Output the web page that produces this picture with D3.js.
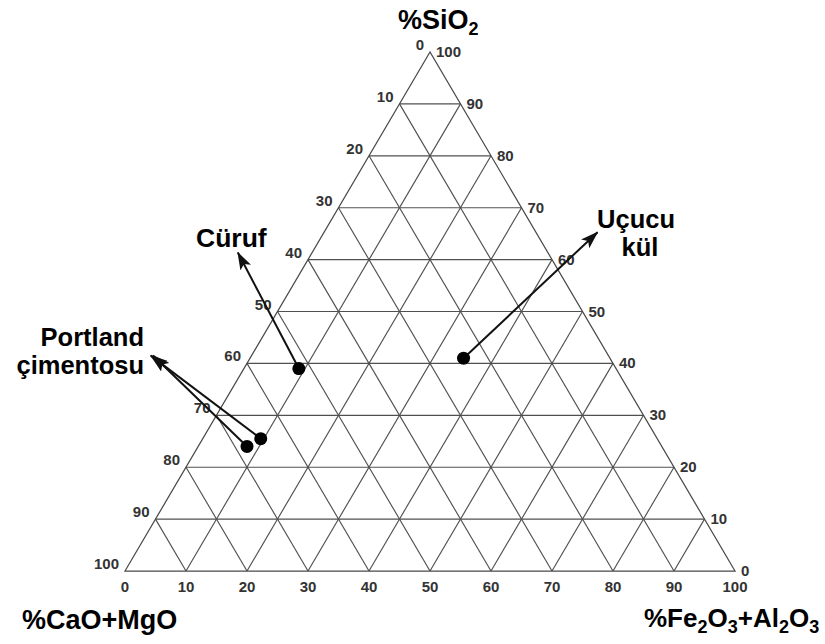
<!DOCTYPE html>
<html lang="tr">
<head>
<meta charset="UTF-8">
<title>Üçgen diyagram</title>
<script src="https://d3js.org/d3.v7.min.js"></script>
<style>
  body { margin: 0; background: #fff; }
  text { font-family: "Liberation Sans", Arial, Helvetica, sans-serif; }
</style>
</head>
<body>
<script>
// data, in percent
const names = ["Portland çimentosu", "Portland çimentosu", "Cüruf", "Uçucu kül"];
const sio2 = [25.5, 24, 39, 41];
const feAl = [9.5, 8, 9, 35];
const caoMgo = [65, 68, 52, 24];

const leftTicks = [0, 10, 20, 30, 40, 50, 60, 70, 80, 90, 100];   // CaO+MgO along left edge
const rightTicks = [0, 10, 20, 30, 40, 50, 60, 70, 80, 90, 100];  // SiO2 along right edge
const bottomTicks = [0, 10, 20, 30, 40, 50, 60, 70, 80, 90, 100]; // Fe2O3+Al2O3 along base
const gridLevels = [10, 20, 30, 40, 50, 60, 70, 80, 90];

const width = 825, height = 644;
const x = d3.scaleLinear().domain([0, 100]).range([125, 735]);
const y = d3.scaleLinear().domain([0, 100]).range([571, 52]);

// ternary -> screen (s = SiO2, f = Fe2O3+Al2O3)
const px = (s, f) => x(f + s / 2);
const py = s => y(s);

const svg = d3.select("body").append("svg")
    .attr("width", width)
    .attr("height", height);

// grid
const seg = [];
gridLevels.forEach(v => {
    seg.push([[v, 0], [v, 100 - v]]);          // SiO2 constant
    seg.push([[0, v], [100 - v, v]]);          // Fe2O3+Al2O3 constant
    seg.push([[0, 100 - v], [100 - v, 0]]);    // CaO+MgO constant
});
svg.append("g").selectAll("line").data(seg).join("line")
    .attr("x1", d => px(d[0][0], d[0][1]))
    .attr("y1", d => py(d[0][0]))
    .attr("x2", d => px(d[1][0], d[1][1]))
    .attr("y2", d => py(d[1][0]))
    .attr("stroke", "#505050")
    .attr("stroke-width", 1.15);

svg.append("path")
    .attr("d", d3.line()([[px(100, 0), py(100)], [px(0, 0), py(0)], [px(0, 100), py(0)]]) + "Z")
    .attr("fill", "none")
    .attr("stroke", "#4a4a4a")
    .attr("stroke-width", 1.25);

// tick labels
const tickG = svg.append("g").attr("font-size", 15).attr("font-weight", "bold").attr("fill", "#333");
tickG.selectAll(".tl").data(leftTicks).join("text")
    .attr("text-anchor", "end")
    .attr("x", d => px(100 - d, 0) - 6)
    .attr("y", d => py(100 - d) - 2)
    .text(d => d);
tickG.selectAll(".tr").data(rightTicks).join("text")
    .attr("text-anchor", "start")
    .attr("x", d => px(d, 100 - d) + 6)
    .attr("y", d => py(d) + 5)
    .text(d => d);
tickG.selectAll(".tb").data(bottomTicks).join("text")
    .attr("text-anchor", "middle")
    .attr("x", d => px(0, d))
    .attr("y", 592)
    .text(d => d);

// axis titles
const titles = svg.append("g").attr("font-size", 27).attr("font-weight", "bold").attr("fill", "#000");
const t1 = titles.append("text").attr("x", 398).attr("y", 29);
t1.append("tspan").text("%SiO");
t1.append("tspan").attr("font-size", 18).attr("dy", 6).text("2");

titles.append("text").attr("x", 22).attr("y", 629).text("%CaO+MgO");

const t3 = titles.append("text").attr("x", 644).attr("y", 627).attr("font-size", 26);
t3.append("tspan").text("%Fe");
t3.append("tspan").attr("font-size", 18).attr("dy", 6).text("2");
t3.append("tspan").attr("dy", -6).text("O");
t3.append("tspan").attr("font-size", 18).attr("dy", 6).text("3");
t3.append("tspan").attr("dy", -6).text("+Al");
t3.append("tspan").attr("font-size", 18).attr("dy", 6).text("2");
t3.append("tspan").attr("dy", -6).text("O");
t3.append("tspan").attr("font-size", 18).attr("dy", 6).text("3");

// arrows
svg.append("defs").append("marker")
    .attr("id", "head")
    .attr("viewBox", "0 0 18 12")
    .attr("refX", 17).attr("refY", 6)
    .attr("markerWidth", 18).attr("markerHeight", 12)
    .attr("markerUnits", "userSpaceOnUse")
    .attr("orient", "auto")
    .append("path").attr("d", "M0,0 L18,6 L0,12 L4,6 Z").attr("fill", "#111");

// arrow tip offset from each point (px)
const tipOffset = [[-110, -83], [-94, -91], [-61, -116], [134, -126]];

const pts = names.map((n, i) => ({
    name: n,
    cx: px(sio2[i], feAl[i]),
    cy: py(sio2[i]),
    dx: tipOffset[i][0],
    dy: tipOffset[i][1]
}));

svg.append("g").selectAll("line").data(pts).join("line")
    .attr("x1", d => d.cx).attr("y1", d => d.cy)
    .attr("x2", d => d.cx + d.dx).attr("y2", d => d.cy + d.dy)
    .attr("stroke", "#111")
    .attr("stroke-width", 2)
    .attr("marker-end", "url(#head)");

svg.append("g").selectAll("circle").data(pts).join("circle")
    .attr("cx", d => d.cx).attr("cy", d => d.cy)
    .attr("r", 6.5)
    .attr("fill", "#000");

// annotation labels
const ann = svg.append("g").attr("font-size", 25.5).attr("font-weight", "bold").attr("fill", "#000");
ann.append("text").attr("x", 144).attr("y", 346).attr("text-anchor", "end").text("Portland");
ann.append("text").attr("x", 144).attr("y", 374).attr("text-anchor", "end").text("çimentosu");
ann.append("text").attr("x", 196).attr("y", 247).attr("font-size", 26.5).text("Cüruf");
ann.append("text").attr("x", 636).attr("y", 228).attr("text-anchor", "middle").text("Uçucu");
ann.append("text").attr("x", 640).attr("y", 256).attr("text-anchor", "middle").text("kül");
</script>
</body>
</html>
